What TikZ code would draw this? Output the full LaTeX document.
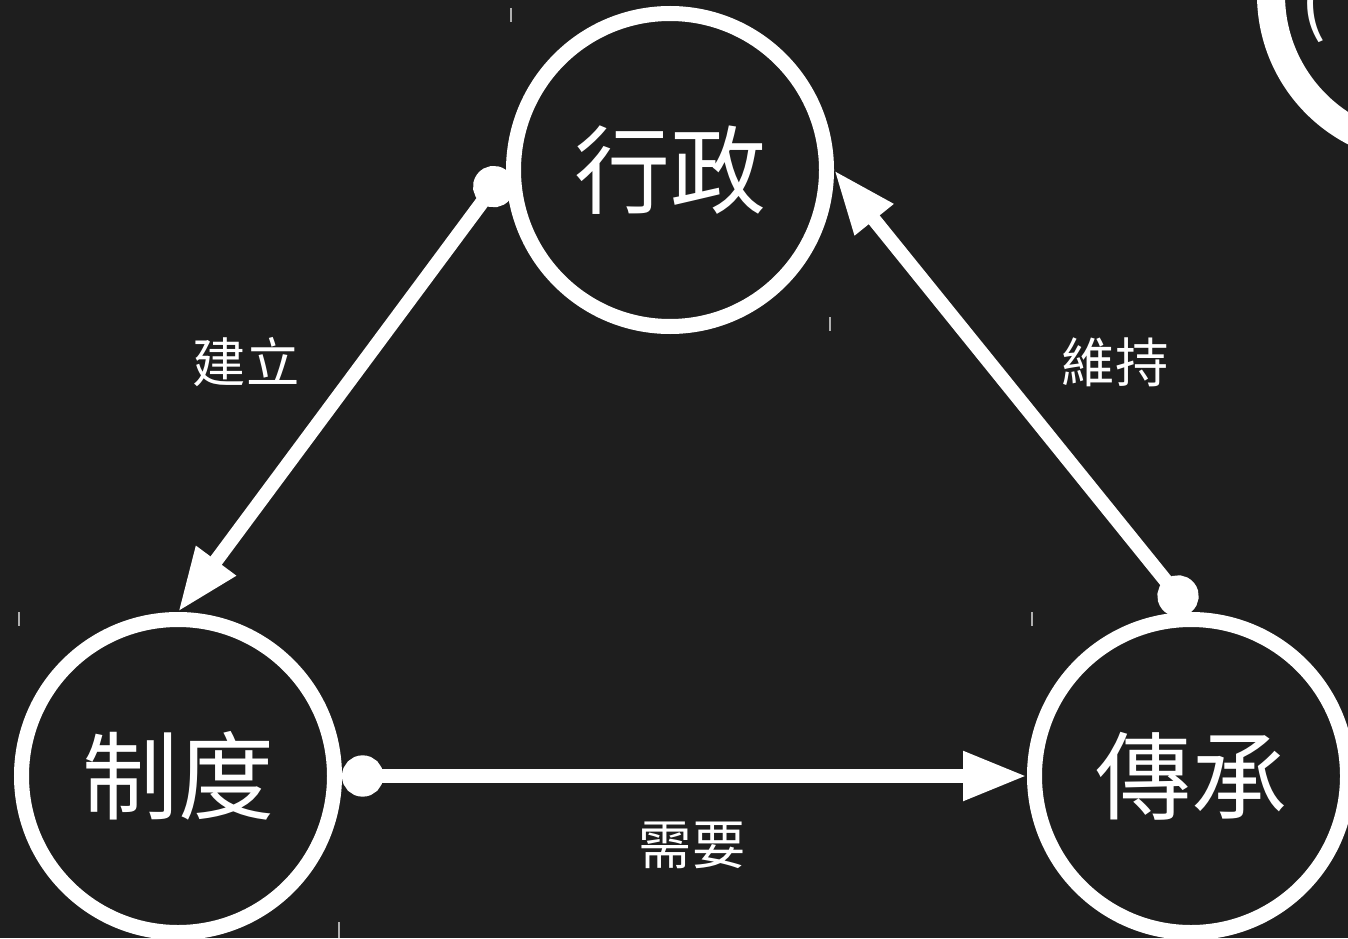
\documentclass[tikz,border=0pt]{standalone}
\usepackage{fontspec}
\newfontfamily\cjk{Noto Sans CJK TC}
\usetikzlibrary{arrows.meta}
\definecolor{bg}{HTML}{1E1E1E}
\definecolor{tickc}{HTML}{B0B0B0}
\begin{document}
\begin{tikzpicture}[x=0.75pt,y=-0.75pt,
  state/.style={circle, draw=white, line width=11.25pt, minimum size=234.75pt,
    inner sep=0pt, outer sep=5.6pt, text=white, font=\cjk\fontsize{72}{80}\selectfont},
  lbl/.style={text=white, font=\cjk\fontsize{40}{48}\selectfont, inner sep=0pt},
  link/.style={white, line width=10.5pt,
    {Circle[length=31pt]}-{Triangle[length=48pt,width=34.5pt]}},
  tickmark/.style={draw=tickc, line width=1.5pt}]
\useasboundingbox (0,0) rectangle (1348,938);
\fill[bg] (0,0) rectangle (1348,938);
\clip (0,0) rectangle (1348,938);
% nodes
\node[state] (xz) at (670,170) {行政};
\node[state] (zd) at (178,776) {制度};
\node[state] (cc) at (1191,776) {傳承};
\node[state, line width=21pt, minimum size=231pt] (extra) at (1425,-5) {};
\node[text=white, font=\cjk\fontsize{58}{64}\selectfont, inner sep=0pt, anchor=base] (paren) at (1314,28) {(};
% connectors
\draw[link] (xz.west) -- (zd.north);
\draw[link] (cc.north) -- (xz.east);
\draw[link] (zd.east) -- (cc.west);
% labels
\node[lbl] (l1) at (246,362) {建立};
\node[lbl] (l2) at (1115,362) {維持};
\node[lbl] (l3) at (692,845) {需要};
% small tick marks
\coordinate (t1a) at (511,8);   \coordinate (t1b) at (511,22);
\coordinate (t2a) at (19,612);  \coordinate (t2b) at (19,626);
\coordinate (t3a) at (339,922); \coordinate (t3b) at (339,938);
\coordinate (t4a) at (830,317); \coordinate (t4b) at (830,331);
\coordinate (t5a) at (1032,612);\coordinate (t5b) at (1032,626);
\draw[tickmark] (t1a) -- (t1b);
\draw[tickmark] (t2a) -- (t2b);
\draw[tickmark] (t3a) -- (t3b);
\draw[tickmark] (t4a) -- (t4b);
\draw[tickmark] (t5a) -- (t5b);
\end{tikzpicture}
\end{document}
